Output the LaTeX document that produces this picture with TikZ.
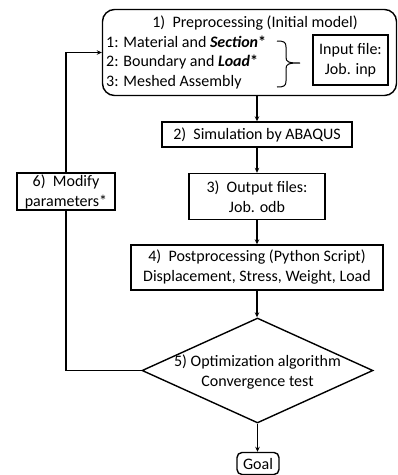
\documentclass[tikz,border=0pt]{standalone}
\usepackage{fontspec}
\setmainfont{Carlito}
\usetikzlibrary{shapes.geometric,arrows.meta}
\begin{document}
\begin{tikzpicture}[x=1pt,y=-1pt,
  every node/.style={font=\fontsize{16}{20}\selectfont},
  box/.style={draw, line width=1.4pt, inner sep=0pt, align=center},
  plain/.style={inner sep=0pt, align=center},
  arr/.style={line width=1.4pt, -{Stealth[length=5pt,width=4.5pt]}},
  ln/.style={line width=1.4pt}]
\useasboundingbox (0,0) rectangle (398,475);
% top box
\node[box, rounded corners=12pt, minimum width=294pt, minimum height=86pt] (top) at (249.5,52.5) {};
\node[plain] (title) at (255,23) {1)\ \ Preprocessing (Initial model)};
\node[plain, anchor=west] (l1) at (106,42) {1: Material and \textbf{\textit{Section}*}};
\node[plain, anchor=west] (l2) at (106,62) {2: Boundary and \textbf{\textit{Load}*}};
\node[plain, anchor=west] (l3) at (106,82) {3: Meshed Assembly};
\node[box, minimum width=75pt, minimum height=50pt] (inp) at (350.5,60) {Input file:\\Job. inp};
\draw[line width=1pt] (277,41) .. controls (284,41) and (286,42) .. (286,47) -- (286,57)
  .. controls (286,62) and (288,63) .. (300,63)
  .. controls (288,63) and (286,64) .. (286,69) -- (286,81)
  .. controls (286,86) and (284,87) .. (277,87);
% chain
\node[box, minimum width=190pt, minimum height=25pt] (sim) at (257,134.5) {2)\ \ Simulation by ABAQUS};
\node[box, minimum width=136pt, minimum height=46pt] (out) at (257,196.5) {3)\ \ Output files:\\Job. odb};
\node[box, minimum width=252pt, minimum height=45pt] (post) at (257,267.5) {4)\ \ Postprocessing (Python Script)\\Displacement, Stress, Weight, Load};
\node[box, shape=diamond, minimum width=231pt, minimum height=105pt] (dia) at (257.5,370.5) {};
\node[plain] (diatext) at (257.5,372) {5) Optimization algorithm\\Convergence test};
\node[box, rounded corners=5pt, minimum width=42pt, minimum height=22pt] (goal) at (258,463.5) {Goal};
\node[box, minimum width=98pt, minimum height=37pt] (mod) at (66,191.5) {6)\ \ Modify\\parameters*};
% connectors
\draw[arr] (top.south -| sim.north) -- (sim.north);
\draw[arr] (sim.south) -- (out.north);
\draw[arr] (out.south) -- (post.north);
\draw[arr] (post.south) -- (post.south |- dia.north);
\draw[arr] (dia.south) -- (dia.south |- goal.north);
\draw[ln] (dia.west) -| (mod.south);
\draw[arr] (mod.north) |- (top.west);
\end{tikzpicture}
\end{document}
